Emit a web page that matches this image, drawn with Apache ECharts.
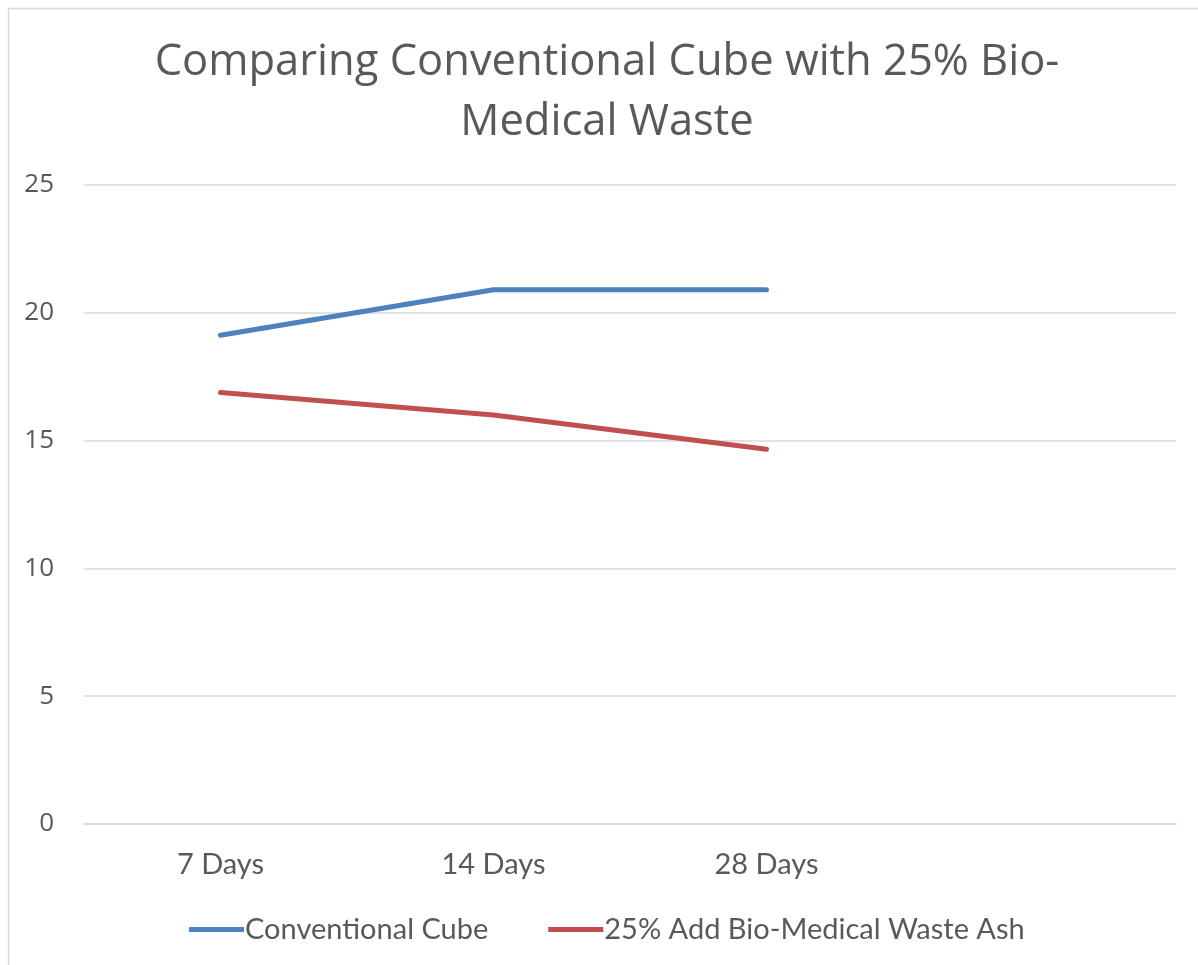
<!DOCTYPE html>
<html><head><meta charset="utf-8">
<script src="https://cdn.jsdelivr.net/npm/echarts@6/dist/echarts.min.js"></script>
<style>html,body{margin:0;padding:0;background:#fff;}#c{width:1198px;height:965px;}</style>
</head><body><div id="c"></div>
<script>
const categories = ['7 Days', '14 Days', '28 Days', ''];
const conventional = [19.12, 20.9, 20.9];
const bioMedical = [16.88, 16.0, 14.66];
const yTicks = [0, 5, 10, 15, 20, 25];
const seriesNames = ['Conventional Cube', '25% Add Bio-Medical Waste Ash'];

const chart = echarts.init(document.getElementById('c'));
chart.setOption({
  backgroundColor: '#fff',
  animation: false,
  title: {
    text: 'Comparing Conventional Cube with 25% Bio-\nMedical Waste',
    left: 602, textAlign: 'center', top: 28,
    textStyle: {fontFamily: 'Open Sans', fontSize: 43.5, fontWeight: 'normal', color: '#595959', lineHeight: 60}
  },
  legend: {
    top: 910, left: 184, itemGap: 60, itemWidth: 55, itemHeight: 5,
    icon: 'rect',
    textStyle: {fontFamily: 'Lato', fontSize: 29, color: '#595959', padding: [0,0,0,-4]},
    data: seriesNames
  },
  grid: {left: 84, right: 22, top: 185, bottom: 141},
  xAxis: {
    type: 'category', data: categories, boundaryGap: true,
    axisLine: {show: true, lineStyle: {color: '#d9d9d9', width: 1.5}},
    axisTick: {show: false},
    axisLabel: {fontFamily: 'Lato', fontSize: 29, color: '#595959', margin: 26}
  },
  yAxis: {
    type: 'value', min: yTicks[0], max: yTicks[yTicks.length-1], interval: 5,
    axisLine: {show: false}, axisTick: {show: false},
    splitLine: {lineStyle: {color: '#d9d9d9', width: 1.5}},
    axisLabel: {fontFamily: 'Open Sans', fontSize: 26, color: '#595959', margin: 30}
  },
  series: [
    {name: seriesNames[0], type: 'line', data: conventional, symbol: 'none',
     lineStyle: {width: 5, color: '#4F81BD', cap: 'round', join: 'round'}, itemStyle: {color: '#4F81BD'}},
    {name: seriesNames[1], type: 'line', data: bioMedical, symbol: 'none',
     lineStyle: {width: 5, color: '#C0504D', cap: 'round', join: 'round'}, itemStyle: {color: '#C0504D'}}
  ],
  graphic: [{type: 'rect', shape: {x: 8.5, y: 8.5, width: 1200, height: 1000}, style: {fill: 'none', stroke: '#d9d9d9', lineWidth: 1.5}, silent: true}]
});
</script></body></html>
